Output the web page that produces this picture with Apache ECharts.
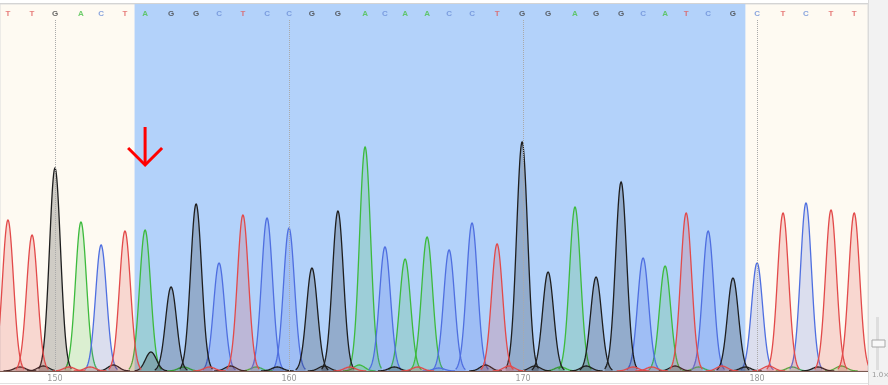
<!DOCTYPE html>
<html>
<head>
<meta charset="utf-8">
<script src="https://cdn.jsdelivr.net/npm/echarts@6/dist/echarts.min.js"></script>
<style>
  html, body { margin: 0; padding: 0; background: #fff; }
  #chart { width: 888px; height: 385px; }
</style>
</head>
<body>
<div id="chart"></div>
<script>
// called bases, one per peak
const bases = ["T","T","G","A","C","T","A","G","G","C","T","C","C","G","G","A","C","A","A","C","C","T","G","G","A","G","G","C","A","T","C","G","C","T","C","T","T"];
// peak centres in base-position units
const peakPos = [147.99, 149.02, 150.0, 151.11, 151.97, 152.99, 153.85, 154.96, 156.03, 157.01, 158.03, 159.06, 160.0, 160.98, 162.09, 163.25, 164.10, 164.96, 165.90, 166.84, 167.82, 168.89, 169.96, 171.07, 172.22, 173.12, 174.19, 175.13, 176.07, 176.97, 177.91, 178.97, 180.0, 181.11, 182.09, 183.16, 184.15];
// peak heights (signal)
const peakHeight = [151, 136, 203, 149, 126, 140, 141, 84, 167, 108, 156, 153, 143, 103, 160, 224, 124, 112, 134, 121, 148, 127, 229, 99, 164, 94, 189, 113, 105, 158, 140, 93, 108, 158, 168, 161, 158];
// small secondary / noise peaks
const minorPos = [148.5, 149.5, 150.6, 151.5, 152.5, 154.1, 155.5, 156.6, 157.5, 158.6, 159.5, 161.5, 162.6, 163.0, 164.5, 165.5, 166.4, 168.4, 169.4, 170.5, 171.6, 172.7, 174.7, 175.5, 176.5, 177.5, 178.5, 179.5, 180.5, 181.5, 182.6, 183.6];
const minorHeight = [4, 5, 4, 4, 6, 19, 4, 4, 5, 4, 4, 5, 4, 6, 4, 4, 3, 6, 5, 5, 4, 5, 4, 4, 5, 4, 5, 4, 5, 4, 4, 5];
const minorBase = ["G","G","T","T","G","G","A","T","G","A","G","G","T","A","G","T","C","G","T","G","A","G","T","T","G","A","T","G","T","A","G","A"];
const tickValues = [150, 160, 170, 180];
const highlightRange = [153.4, 179.5];
const arrowPos = 153.85;

const channels = ["A", "C", "G", "T"];
const lineColor = { A: "#3dba3d", C: "#4f6fe0", G: "#1e1e1e", T: "#e24a4a" };
const fillColor = { A: "rgba(60,190,60,0.18)", C: "rgba(80,110,225,0.2)", G: "rgba(20,20,20,0.2)", T: "rgba(226,74,74,0.2)" };
const letterColor = { A: "#4cc24c", C: "#6b8fd8", G: "#444", T: "#e05a5a" };

const SIGMA = 0.235;
const LETTER_Y = 357;

const chart = echarts.init(document.getElementById("chart"));

function renderPeak(params, api) {
  const pos = api.value(0);
  const h = api.value(1);
  const ch = channels[api.value(2)];
  const pts = [];
  for (let t = -0.7; t <= 0.7001; t += 0.02) {
    pts.push(api.coord([pos + t, h * Math.exp(-t * t / (2 * SIGMA * SIGMA))]));
  }
  const y0 = api.coord([pos, 0])[1];
  const poly = [[pts[0][0], y0]].concat(pts, [[pts[pts.length - 1][0], y0]]);
  return {
    type: "group",
    children: [
      { type: "polygon", shape: { points: poly }, style: { fill: fillColor[ch], stroke: null } },
      { type: "polyline", shape: { points: pts }, style: { stroke: lineColor[ch], lineWidth: 1.3, fill: null } }
    ]
  };
}

const peakSeries = channels.map((ch, ci) => {
  const data = [];
  bases.forEach((b, i) => { if (b === ch) data.push([peakPos[i], peakHeight[i], ci]); });
  minorBase.forEach((b, i) => { if (b === ch) data.push([minorPos[i], minorHeight[i], ci]); });
  return {
    name: ch,
    type: "custom",
    renderItem: renderPeak,
    clip: true,
    z: 3,
    silent: true,
    data: data
  };
});

const letterData = bases.map((b, i) => ({
  value: [peakPos[i], LETTER_Y],
  label: { color: letterColor[b], formatter: b }
}));

const option = {
  animation: false,
  grid: {
    left: 0, right: 20, top: 4, bottom: 14,
    show: true,
    backgroundColor: "#fefaf2",
    borderColor: "#dcdcdc",
    borderWidth: 1
  },
  xAxis: {
    type: "value",
    min: 147.65,
    max: 184.74,
    splitLine: { show: false },
    axisLine: { show: true, lineStyle: { color: "#7a5a52", width: 1.2 } },
    axisTick: { show: false },
    axisLabel: {
      customValues: tickValues,
      color: "#999",
      fontSize: 8,
      margin: 4,
      fontFamily: "DejaVu Sans"
    }
  },
  yAxis: {
    type: "value",
    min: 0,
    max: 367,
    show: false
  },
  series: [
    {
      type: "scatter",
      z: 1,
      silent: true,
      symbolSize: 0,
      data: letterData,
      label: {
        show: true,
        position: "inside",
        fontSize: 8,
        fontFamily: "Liberation Sans",
        fontWeight: "bold"
      },
      markArea: {
        silent: true,
        itemStyle: { color: "#b3d2fa", opacity: 1 },
        data: [[{ xAxis: highlightRange[0] }, { xAxis: highlightRange[1] }]]
      },
      markLine: {
        silent: true,
        symbol: "none",
        label: { show: false },
        lineStyle: { color: "#aaa", type: "dotted", width: 1 },
        data: tickValues.map(v => [{ coord: [v, 0] }, { coord: [v, 351] }])
      }
    }
  ].concat(peakSeries)
};

chart.setOption(option);

// red arrow annotation over the first highlighted base
const arrowTop = chart.convertToPixel({ xAxisIndex: 0, yAxisIndex: 0 }, [arrowPos, 244]);
const arrowTip = chart.convertToPixel({ xAxisIndex: 0, yAxisIndex: 0 }, [arrowPos, 206]);

chart.setOption({
  graphic: [
    { type: "rect", shape: { x: 868, y: 0, width: 20, height: 385 }, style: { fill: "#f2f2f2" }, z: 10 },
    { type: "line", shape: { x1: 868.5, y1: 0, x2: 868.5, y2: 385 }, style: { stroke: "#dadada", lineWidth: 1 }, z: 11 },
    { type: "rect", shape: { x: 876, y: 317, width: 3, height: 53 }, style: { fill: "#dedede" }, z: 11 },
    { type: "rect", shape: { x: 872, y: 340, width: 13, height: 7 }, style: { fill: "#f8f8f8", stroke: "#a8a8a8", lineWidth: 1 }, z: 12 },
    { type: "text", x: 872, y: 372, style: { text: "1.0×", fill: "#999", fontSize: 7, fontFamily: "DejaVu Sans" }, z: 12 },
    { type: "line", shape: { x1: 0, y1: 383.5, x2: 868, y2: 383.5 }, style: { stroke: "#e2e2e2", lineWidth: 1 }, z: 10 },
    { type: "line", shape: { x1: 0, y1: 3.5, x2: 868, y2: 3.5 }, style: { stroke: "#d4d4d4", lineWidth: 1 }, z: 10 },
    { type: "line", shape: { x1: arrowTop[0], y1: arrowTop[1], x2: arrowTip[0], y2: arrowTip[1] }, style: { stroke: "#ff0000", lineWidth: 3 }, z: 20 },
    { type: "polyline", shape: { points: [[arrowTip[0] - 17, arrowTip[1] - 17], [arrowTip[0], arrowTip[1]], [arrowTip[0] + 17, arrowTip[1] - 17]] }, style: { stroke: "#ff0000", lineWidth: 3, fill: null }, z: 20 }
  ]
});

window.addEventListener("resize", () => chart.resize());
</script>
</body>
</html>
